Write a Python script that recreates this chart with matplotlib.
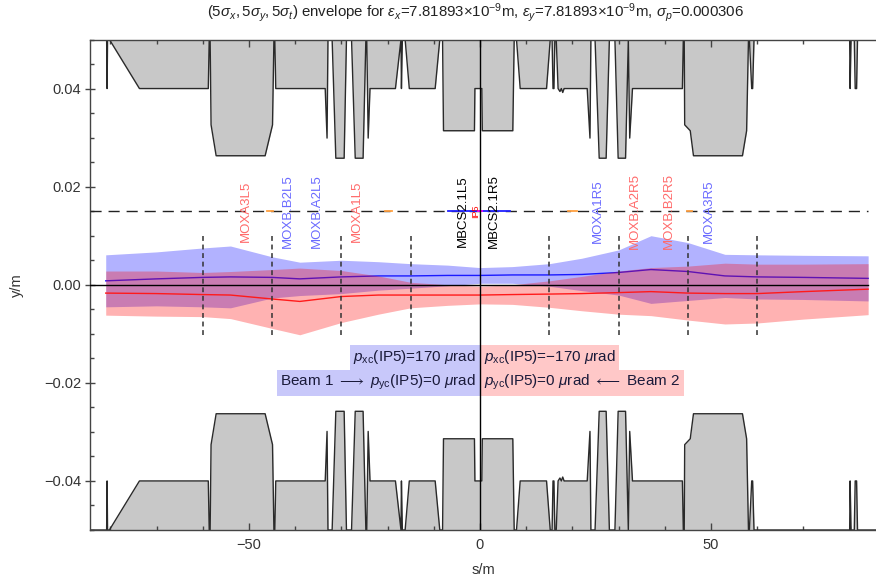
import matplotlib
matplotlib.use("Agg")
import matplotlib.pyplot as plt
import numpy as np
from matplotlib.ticker import MultipleLocator, FixedLocator, FuncFormatter

plt.rcParams['font.family'] = ['Liberation Sans', 'DejaVu Sans']
plt.rcParams['mathtext.fontset'] = 'custom'
plt.rcParams['mathtext.rm'] = 'Liberation Sans'
plt.rcParams['mathtext.it'] = 'Liberation Sans:italic'
plt.rcParams['mathtext.bf'] = 'Liberation Sans:bold'
plt.rcParams['mathtext.fallback'] = 'stixsans'

# ---- aperture (half-height, m) along s (m); 0.05 means open beyond the frame
ap_s = [-84.4, -80.8, -80.7, -80.6, -80.2, -73.7, -58.8, -58.6, -58.4, -58.2, -57.1,
        -46.5, -44.9, -44.6, -44.4, -44.2, -33.5, -33.1, -32.9, -32.0, -31.2, -29.4,
        -28.9, -27.8, -27.0, -25.3, -24.7, -24.5, -24.2, -23.8, -18.3, -17.1, -17.0,
        -16.8, -16.2, -15.3, -9.7, -8.7, -8.1, -7.9, -1.2, -1.1, 0.4, 0.5, 7.1, 7.4,
        7.9, 8.7, 14.4, 15.2, 15.6, 15.8, 16.0, 16.2, 16.5, 16.9, 17.3, 17.6, 17.9,
        18.2, 23.2, 23.8, 24.0, 24.9, 25.8, 27.3, 28.0, 29.2, 29.9, 31.5, 32.1, 32.4,
        33.0, 43.8, 44.0, 44.2, 44.3, 45.5, 46.2, 56.8, 57.7, 58.1, 58.3, 58.8, 59.0,
        59.3, 80.0, 80.1, 80.3, 81.0, 81.2, 81.5, 81.7, 85.7]
ap_top = [0.05, 0.05, 0.04, 0.05, 0.05, 0.04, 0.04, 0.05, 0.05, 0.0326, 0.0263,
          0.0263, 0.0326, 0.05, 0.05, 0.04, 0.04, 0.0299, 0.05, 0.05, 0.0258, 0.0258,
          0.05, 0.05, 0.0258, 0.0258, 0.05, 0.05, 0.0299, 0.04, 0.04, 0.05, 0.04,
          0.05, 0.05, 0.04, 0.04, 0.05, 0.05, 0.0314, 0.0314, 0.04, 0.04, 0.0314, 0.0314, 0.05,
          0.05, 0.04, 0.04, 0.05, 0.05, 0.04, 0.04, 0.05, 0.05, 0.04, 0.0394, 0.04, 0.0392,
          0.04, 0.04, 0.0299, 0.05, 0.05, 0.0258, 0.0258, 0.05, 0.05, 0.0258, 0.0258, 0.05, 0.0299,
          0.04, 0.04, 0.05, 0.05, 0.0326, 0.0314, 0.0263, 0.0263, 0.0314, 0.05, 0.05, 0.04, 0.04,
          0.05, 0.05, 0.04, 0.05, 0.05, 0.04, 0.04, 0.05, 0.05]

# ---- beam envelopes: closed-orbit centre and 5-sigma half-width (m)
beam_s = [-81, -70, -60, -54, -45, -39, -30, -22, -15, -7, 0, 7, 15, 22, 30, 37, 45, 53, 60, 70, 84]
b1_center = [0.0008, 0.0012, 0.0015, 0.0016, 0.0015, 0.0012, 0.0016, 0.0018, 0.0018, 0.0019, 0.0019,
             0.0020, 0.0020, 0.0021, 0.0025, 0.0031, 0.0027, 0.0018, 0.0016, 0.0015, 0.0013]
b1_half = [0.0053, 0.0055, 0.0060, 0.0063, 0.0042, 0.0034, 0.0034, 0.0029, 0.0025, 0.0021, 0.0016,
           0.0017, 0.0023, 0.0033, 0.0046, 0.0069, 0.0059, 0.0044, 0.0045, 0.0045, 0.0046]
b2_center = [-0.0017, -0.0018, -0.0020, -0.0021, -0.0029, -0.0034, -0.0024, -0.0021, -0.0021, -0.0021, -0.0021,
             -0.0020, -0.0019, -0.0018, -0.0016, -0.0014, -0.0017, -0.0018, -0.0018, -0.0014, -0.0009]
b2_half = [0.0045, 0.0046, 0.0045, 0.0048, 0.0060, 0.0068, 0.0053, 0.0039, 0.0026, 0.0021, 0.0018,
           0.0020, 0.0027, 0.0035, 0.0044, 0.0049, 0.0055, 0.0062, 0.0060, 0.0056, 0.0052]

# ---- element markers along the reference line
elem_names = ["MOXA3L5", "MOXB.B2L5", "MOXB.A2L5", "MOXA1L5", "MBCS2.1L5", "IP5",
              "MBCS2.1R5", "MOXA1R5", "MOXB.A2R5", "MOXB.B2R5", "MOXA3R5"]
elem_s = [-50.7, -41.5, -35.2, -26.7, -3.6, -0.9, 2.9, 25.6, 33.5, 40.8, 49.6]
elem_colors = ["#ff6a6a", "#6a6aff", "#6a6aff", "#ff6a6a", "black", "red",
               "black", "#6a6aff", "#ff6a6a", "#ff6a6a", "#6a6aff"]
marker_level = 0.015
orange_segments = [(-46.0, -44.8), (-20.6, -19.1), (19.0, 20.9), (44.7, 45.8)]
blue_segment = (-7.0, 6.5)
section_marks = [-60, -45, -30, -15, 15, 30, 45, 60]

fig = plt.figure(figsize=(8.76, 5.80), dpi=100)
ax = fig.add_axes([90 / 876, 50 / 580, 786 / 876, 490.5 / 580])
x_lo, x_hi = -84.4, 85.7
ax.set_xlim(x_lo, x_hi)
ax.set_ylim(-0.05, 0.05)

gray_fill = "#c8c8c8"
edge = "#2a2a2a"
ap_s_arr = np.array(ap_s)
ap_top_arr = np.array(ap_top)
ax.fill_between(ap_s_arr, ap_top_arr, 0.05, color=gray_fill, lw=0, zorder=1)
ax.plot(ap_s_arr, ap_top_arr, color=edge, lw=1.0, zorder=2)
ax.fill_between(ap_s_arr, -ap_top_arr, -0.05, color=gray_fill, lw=0, zorder=1)
ax.plot(ap_s_arr, -ap_top_arr, color=edge, lw=1.0, zorder=2)

# beam 1 then beam 2 (beam 2 band drawn over beam 1 line)
bs = np.array(beam_s)
c1, h1 = np.array(b1_center), np.array(b1_half)
c2, h2 = np.array(b2_center), np.array(b2_half)
ax.fill_between(bs, c1 - h1, c1 + h1, color=(0, 0, 1), alpha=0.3, lw=0, zorder=3)
ax.plot(bs, c1, color=(0.1, 0.1, 1.0), lw=1.0, zorder=4)
ax.fill_between(bs, c2 - h2, c2 + h2, color=(1, 0, 0), alpha=0.3, lw=0, zorder=5)
ax.plot(bs, c2, color=(1.0, 0.1, 0.1), lw=1.0, zorder=6)

# reference axes lines
ax.plot([x_lo, 84.0], [0, 0], color="black", lw=1.0, zorder=7)
ax.plot([0, 0], [-0.05, 0.05], color="black", lw=1.0, zorder=12)

# section markers
for s in section_marks:
    ax.plot([s, s], [-0.0102, 0.0099], color="#333333", lw=1.1,
            dashes=(3.2, 2.4), zorder=7)

# element line and labels
ax.plot([x_lo, 84.0], [marker_level, marker_level], color="#222222", lw=1.0,
        dashes=(8, 5), zorder=7)
for a, b in orange_segments:
    ax.plot([a, b], [marker_level, marker_level], color="#ffa040", lw=1.3, zorder=8)
ax.plot(list(blue_segment), [marker_level, marker_level], color="#2020ff", lw=1.3, zorder=8)
ax.plot([-0.5, 0.5], [marker_level, marker_level], color="#ff00ff", lw=1.3, zorder=8)
for name, s, col in zip(elem_names, elem_s, elem_colors):
    fs = 6.5 if name == "IP5" else 9.5
    ax.text(s, marker_level, name, rotation=90, ha="center", va="center",
            color=col, fontsize=fs, zorder=9)

# crossing-angle annotations
box_b1 = dict(facecolor="#c8c8fa", edgecolor="none", pad=2.5)
box_b2 = dict(facecolor="#ffc8c8", edgecolor="none", pad=2.5)
txt_kw = dict(fontsize=11, color="#1a1a3a", va="center", textcoords="offset points", zorder=10)
ax.annotate(r"$p_{\mathrm{xc}}$(IP5)=170 $\mu$rad", xy=(0, -0.0148), xytext=(-2.7, 0),
            ha="right", bbox=box_b1, **txt_kw)
ax.annotate(r"Beam 1 $\longrightarrow$ $p_{\mathrm{yc}}$(IP5)=0 $\mu$rad", xy=(0, -0.0200),
            xytext=(-2.7, 0), ha="right", bbox=box_b1, **txt_kw)
ax.annotate(r"$p_{\mathrm{xc}}$(IP5)=$-$170 $\mu$rad", xy=(0, -0.0148), xytext=(2.7, 0),
            ha="left", bbox=box_b2, **txt_kw)
ax.annotate(r"$p_{\mathrm{yc}}$(IP5)=0 $\mu$rad $\longleftarrow$ Beam 2", xy=(0, -0.0200),
            xytext=(2.7, 0), ha="left", bbox=box_b2, **txt_kw)

# frame and ticks
frame_col = "#444444"
for side in ("left", "top", "bottom"):
    ax.spines[side].set_color(frame_col)
    ax.spines[side].set_linewidth(1.0)
ax.spines["right"].set_visible(False)
ax.xaxis.set_major_locator(FixedLocator([-50, 0, 50]))
ax.xaxis.set_minor_locator(MultipleLocator(10))
ax.yaxis.set_major_locator(MultipleLocator(0.02))
ax.yaxis.set_minor_locator(MultipleLocator(0.005))
ax.xaxis.set_major_formatter(FuncFormatter(lambda v, p: f"{v:.0f}".replace("-", "\u2212")))
ax.yaxis.set_major_formatter(FuncFormatter(lambda v, p: f"{v:.2f}".replace("-", "\u2212")))
ax.tick_params(axis="x", which="major", direction="in", length=5, width=1, color=frame_col,
               top=True, bottom=True, labelsize=10.5, labelcolor="#333333", pad=6)
ax.tick_params(axis="x", which="minor", direction="in", length=3, width=1, color=frame_col,
               top=True, bottom=True)
ax.tick_params(axis="y", which="major", direction="inout", length=7, width=1, color=frame_col,
               left=True, right=False, labelsize=10.5, labelcolor="#333333", pad=3)
ax.tick_params(axis="y", which="minor", direction="in", length=3, width=1, color=frame_col,
               left=True, right=False)

ax.set_xlabel("s/m", fontsize=10.5, color="#333333", labelpad=8)
ax.set_ylabel("y/m", fontsize=10.5, color="#333333", labelpad=14)

fig.text(476 / 876, 1 - 13 / 580,
         r"$(5\sigma_x,5\sigma_y,5\sigma_t)$ envelope for $\epsilon_x$=7.81893$\times$10$^{-9}$m, "
         r"$\epsilon_y$=7.81893$\times$10$^{-9}$m, $\sigma_p$=0.000306",
         ha="center", va="center", fontsize=10.8, color="#222222")

fig.savefig("out.png", dpi=100)
